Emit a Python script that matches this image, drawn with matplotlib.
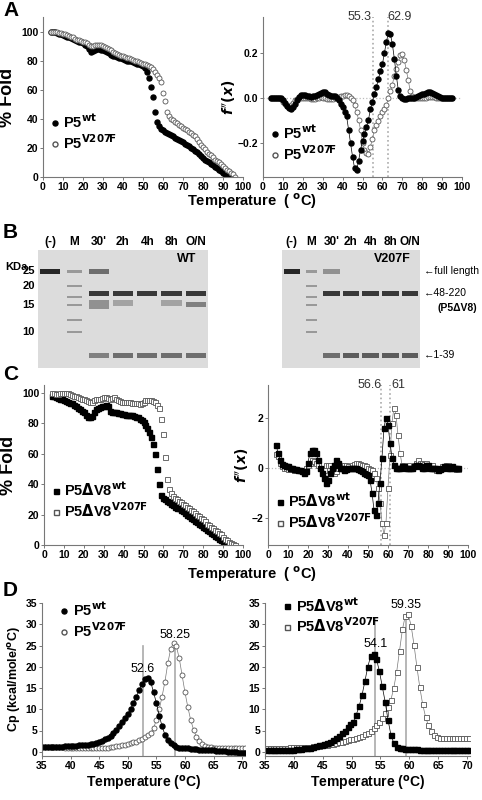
import numpy as np
import matplotlib
matplotlib.use("Agg")
import matplotlib.pyplot as plt
from matplotlib.patches import Rectangle

plt.rcParams['font.family'] = ['Liberation Sans', 'DejaVu Sans']
plt.rcParams['font.weight'] = 'bold'

# ---------------- DATA ----------------
tA_wt = list(range(4, 95))
foldA_wt = [100,100,99.5,99,98.5,98,97.5,
 97,96.5,96,95.5,95,94,93.5,93,92.5,92,
 91,90,88,86,86.5,87,88,88,87.5,87,
 86.5,86,85,84,83.5,83,82.5,82,81.5,81,
 80.5,80,80,79.5,79,78.5,78,77.5,77,76,
 75,72,68,62,55,45,38,35,33,32,
 31,30,29.5,29,28,27,26,25.5,25,24,
 23,22,21,20,19,18,17,16,14.5,13,
 12,11,10,9,8,7,6,5,4,3,
 2,1,0,-1]
tA_mut = list(range(4, 97))
foldA_mut = [100,100,99.5,99.5,99,99,98.5,
 98,97.5,97,96.5,96,95,94.5,94,93.5,93,
 92.5,92,91,90,90,90.5,91,91,90.5,90,
 89.5,89,88,87,86,85,84.5,84,83.5,83,
 82.5,82,81.5,81,80.5,80,79.5,79,78.5,78,
 77.5,77,76.5,75.5,74,72,70,68,65,58,
 52,45,42,40,39,38,37,36,35,34,
 33,32,31,30,29,28,26,24,22,20.5,
 19,17.5,16,15,13.5,12,11,10,9,7.5,
 6,5,4,3,2,0]
tA_d = list(range(4, 96))
derA_wt = [0,0,0,0,0,0,-0.01,
 -0.02,-0.035,-0.045,-0.048,-0.04,-0.025,-0.01,0.005,0.012,0.015,
 0.014,0.01,0.008,0.007,0.008,0.01,0.014,0.018,0.022,0.025,
 0.025,0.02,0.014,0.01,0.01,0.008,0.0,-0.01,-0.025,-0.04,
 -0.06,-0.08,-0.14,-0.2,-0.26,-0.31,-0.32,-0.28,-0.23,-0.19,
 -0.16,-0.13,-0.095,-0.05,-0.015,0.02,0.05,0.085,0.12,0.15,
 0.2,0.25,0.29,0.285,0.24,0.175,0.1,0.035,0.01,0.0,
 -0.005,-0.005,0,0,0,0,0.005,0.01,0.015,0.018,
 0.02,0.022,0.025,0.025,0.022,0.018,0.012,0.008,0.005,0.002,
 0,0,0,0,0]
derA_mut = [0,0,0,0,0,-0.005,-0.015,
 -0.025,-0.035,-0.04,-0.03,-0.02,-0.01,-0.005,0,0,0,
 0,0,0,-0.002,-0.003,-0.003,0,0.002,0.003,0.002,
 0,-0.002,-0.003,-0.003,-0.002,0.0,0.003,0.006,0.008,0.01,
 0.012,0.012,0.008,0,-0.01,-0.03,-0.06,-0.095,-0.14,-0.2,
 -0.23,-0.245,-0.25,-0.215,-0.18,-0.14,-0.12,-0.1,-0.08,-0.06,
 -0.05,-0.03,0.0,0.03,0.06,0.1,0.13,0.16,0.19,0.195,
 0.17,0.125,0.08,0.03,0.01,0,0,0,0,0,
 0,0.002,0.004,0.005,0.004,0.003,0.002,0.001,0,0,
 0,0,0,0,0]
peaksA = [55.3, 62.9]

tC_wt = list(range(4, 95))
foldC_wt = [98,97.5,97,96.5,96,95.5,95,94.5,94,93.5,
 93,92,91,90,89,88,87,85.5,84,84,
 84.5,87,89,90,90.5,91,91.5,92,91,88,
 87.5,87,87,86.5,86.5,86,86,85.5,85.5,85,
 85,84.5,84,84,83,82,81,79,77,74,
 71,66,60,50,40,33,31,30,29,28,
 27,26,25,24.5,24,23,22,21,20,19,
 18,17,16,15,14,13,12,11,10,9,
 8,7,6,5,4,3,2.5,2,1,0.5,0]
tC_mut = list(range(4, 97))
foldC_mut = [100,99.5,99,99,99.5,100,100,100,99.5,99,
 98.5,98,97.5,97,96.5,96,95.5,95,94.5,94,
 94,95,96,96,96,96.5,97,97,96.5,96,
 96.5,97,96,95,94.5,94,94,94,94,94,
 93.5,93.5,93,93,92.5,93,94,95,95,95,
 95,94.5,94,92,90,83,73,58,43,37,
 34,32,31,30,29,28,27,26,25,24,
 23,22,21,20,19,18,17,15.5,14,13,
 12,11,10,9,8,7,5,4,3,2,
 1.5,0.5,0]
tC_d = list(range(4, 96))
derC_wt = [0.9,0.6,0.3,0.15,0.1,0.05,0.05,0.0,0.0,-0.05,
 -0.05,-0.1,-0.1,-0.15,-0.2,-0.15,0.2,0.6,0.7,0.7,
 0.6,0.3,0.0,-0.2,-0.4,-0.6,-0.5,-0.2,0.0,0.1,
 0.3,0.2,0.0,0.0,-0.1,-0.05,0.0,0.0,0.0,0.0,
 0.0,-0.05,-0.1,-0.15,-0.2,-0.25,-0.3,-0.5,-1.0,-1.7,
 -1.9,-1.4,-0.6,0.4,1.6,2.0,1.7,1.0,0.4,0.1,
 0.0,0.0,0.0,0.05,0.05,0.0,0.0,0.0,0.0,0.05,
 0.1,0.1,0.05,0.0,0.0,0.1,0.1,0.0,0.0,0.0,
 0.0,-0.1,-0.05,0.0,0.05,0.05,0.0,0.0,0.05,0.0,0.0,0.0]
derC_mut = [0.55,0.45,0.2,0.05,0.0,0.0,-0.05,-0.05,-0.05,-0.1,
 -0.1,-0.1,-0.1,-0.15,-0.1,0.0,0.1,0.2,0.3,0.25,
 0.2,0.1,0.0,-0.05,-0.1,0.1,0.1,0.1,0.0,-0.2,
 -0.15,0.0,0.1,0.1,0.1,0.1,0.05,0.0,0.1,0.15,
 0.2,0.2,0.15,0.1,0.1,0.05,0.0,-0.05,-0.1,-0.2,
 -0.4,-0.8,-1.4,-2.2,-2.7,-2.2,-0.8,0.5,1.8,2.4,
 2.1,1.3,0.6,0.1,0.0,0.05,0.1,0.0,0.0,0.1,
 0.2,0.3,0.2,0.2,0.15,0.2,0.1,0.0,0.1,0.0,
 -0.1,0.0,0.0,0.05,0.0,0.1,0.1,0.0,0.0,0.0,-0.05,-0.05]
peaksC = [56.6, 61]

tD1 = np.arange(35, 70.6, 0.5)
cpD1_wt = [1.2,1.2,1.2,1.2,1.2,1.2,1.2,1.2,1.3,1.3,
 1.3,1.4,1.4,1.5,1.5,1.6,1.7,1.8,1.9,2.1,
 2.3,2.6,2.9,3.3,3.8,4.4,5.1,6.0,7.0,8.0,
 9.0,10.0,11.5,13.0,14.5,16.0,17.2,17.3,16.5,14.0,
 11.5,8.5,6.0,4.0,2.8,2.0,1.5,1.2,1.0,0.9,
 0.9,0.8,0.7,0.6,0.6,0.5,0.5,0.4,0.4,0.3,
 0.3,0.2,0.2,0.1,0.1,0.0,0.0,-0.1,-0.1,-0.2,
 -0.2,-0.3]
cpD1_mut = [1.2,1.2,1.2,1.2,1.1,1.1,1.1,1.1,1.0,1.0,
 1.0,1.0,1.0,0.9,0.9,0.9,0.9,0.9,0.9,0.9,
 0.9,0.9,1.0,1.0,1.1,1.2,1.3,1.4,1.5,1.7,
 1.9,2.0,2.2,2.4,2.7,3.0,3.4,3.9,4.5,5.5,
 7.5,10.0,13.0,16.5,20.8,24.2,25.6,24.8,22.0,18.0,
 14.0,10.5,7.5,5.2,3.5,2.5,1.8,1.4,1.2,1.1,
 1.0,1.0,0.9,0.9,0.9,0.9,0.8,0.8,0.8,0.8,
 0.8,0.8]
tmD1 = [52.6, 58.25]

tD2 = np.arange(35.3, 70.4, 0.5)
cpD2_wt = [0.3,0.3,0.3,0.3,0.3,0.4,0.4,0.4,0.5,0.5,
 0.6,0.6,0.7,0.8,0.9,1.0,1.1,1.3,1.5,1.7,
 1.9,2.1,2.4,2.8,3.2,3.7,4.3,5.0,5.8,6.5,
 7.0,8.7,10.7,13.3,16.6,20.0,22.5,23.0,21.8,19.0,
 15.4,11.8,7.5,4.0,2.0,1.2,0.9,0.8,0.7,0.7,
 0.6,0.6,0.6,0.5,0.5,0.5,0.5,0.5,0.5,0.4,
 0.4,0.4,0.4,0.4,0.4,0.3,0.3,0.3,0.3,0.3,
 0.3]
cpD2_mut = [1.0,1.0,1.0,1.0,1.0,1.0,1.0,1.0,1.1,1.1,
 1.1,1.1,1.1,1.2,1.2,1.2,1.3,1.3,1.4,1.5,
 1.6,1.7,1.8,1.9,2.0,2.2,2.4,2.6,2.8,3.0,
 3.0,3.2,3.5,3.8,4.1,4.5,5.0,5.5,6.2,7.0,
 8.0,9.2,10.5,12.2,15.0,18.8,23.8,28.8,32.0,32.3,
 29.7,25.2,20.0,15.2,11.2,8.2,6.2,4.8,4.0,3.5,
 3.2,3.2,3.2,3.2,3.2,3.2,3.2,3.2,3.2,3.2,
 3.2]
tmD2 = [54.1, 59.35]

# gel: lanes and band sizes (kDa), intensities
lanes = ["(-)", "M", "30'", "2h", "4h", "8h", "O/N"]
marker_kda = [25, 20, 15, 10]
bands_wt = {"(-)": [(25, 1.0)], "30'": [(25, 0.6), (18, 0.9), (15.5, 0.4), (14.8, 0.4), (7, 0.5)],
            "2h": [(18, 0.9), (15.5, 0.3), (7, 0.6)], "4h": [(18, 0.9), (7, 0.6)],
            "8h": [(18, 0.9), (15.5, 0.3), (7, 0.6)], "O/N": [(18, 0.9), (15.2, 0.5), (7, 0.6)]}
bands_mut = {"(-)": [(25, 1.0)], "30'": [(25, 0.4), (18, 0.9), (7, 0.6)],
             "2h": [(18, 0.9), (7, 0.7)], "4h": [(18, 0.9), (7, 0.7)],
             "8h": [(18, 0.9), (7, 0.7)], "O/N": [(18, 0.9), (7, 0.7)]}

# ---------------- FIGURE ----------------
fig = plt.figure(figsize=(4.82, 8.0), dpi=100)
W, H = 482, 800

def ax_px(x0, x1, y0, y1):
    return fig.add_axes([x0 / W, 1 - y1 / H, (x1 - x0) / W, (y1 - y0) / H])

def style(ax, xlim=(0, 100), xt=range(0, 101, 10)):
    for s in ['top', 'right']:
        ax.spines[s].set_visible(False)
    for s in ['left', 'bottom']:
        ax.spines[s].set_color('#777777')
        ax.spines[s].set_linewidth(0.8)
    ax.set_xlim(*xlim)
    ax.set_xticks(list(xt))
    ax.tick_params(labelsize=7.5, length=2.5, width=0.7, color='#777777', pad=1)
    for lb in ax.get_xticklabels() + ax.get_yticklabels():
        lb.set_fontweight('bold')

ms = 3.6
def filled(ax, x, y, m='o', line=False):
    ax.plot(x, y, m, ms=ms, color='black', mec='black', ls='-' if line else 'none', lw=0.5)
def hollow(ax, x, y, m='o', line=False):
    ax.plot(x, y, m, ms=ms, mfc='white', mec='#555555', mew=0.6, color='#777777',
            ls='-' if line else 'none', lw=0.5)

def legend(ax, labels, m, loc, fs=10.5):
    h1 = ax.plot([], [], m, ms=ms, color='black', ls='none')[0]
    h2 = ax.plot([], [], m, ms=ms, mfc='white', mec='#555555', ls='none')[0]
    ax.legend([h1, h2], labels, loc=loc, frameon=False, handletextpad=0.2,
              borderaxespad=0.2, labelspacing=0.15, handlelength=0.8, prop={'weight': 'bold', 'size': fs})

# A left
a1 = ax_px(43, 243, 17, 177)
filled(a1, tA_wt, foldA_wt); hollow(a1, tA_mut, foldA_mut)
style(a1); a1.set_ylim(0, 110); a1.set_yticks(range(0, 101, 20))
a1.set_ylabel('% Fold', fontsize=13, fontweight='bold')
a1.yaxis.set_label_coords(-0.135, 0.5)
legend(a1, [r'P5$^{\mathbf{wt}}$', r'P5$^{\mathbf{V207F}}$'], 'o', (0.0, 0.12))
# A right
a2 = ax_px(263, 462, 17, 177)
a2.axhline(0, color='#bbbbbb', ls=':', lw=0.9)
for p in peaksA:
    a2.axvline(p, color='#aaaaaa', ls=':', lw=1.2)
a2.text(peaksA[0] - 1, 0.335, str(peaksA[0]), ha='right', va='bottom', fontsize=9, fontweight='normal', color='#333333')
a2.text(peaksA[1] - 0.5, 0.335, str(peaksA[1]), ha='left', va='bottom', fontsize=9, fontweight='normal', color='#333333')
hollow(a2, tA_d, derA_mut, line=True); filled(a2, tA_d, derA_wt, line=True)
style(a2); a2.set_ylim(-0.35, 0.36); a2.set_yticks([-0.2, 0.0, 0.2])
a2.set_ylabel(r"$f''(x)$", fontsize=10, fontweight='normal', labelpad=0)
legend(a2, [r'P5$^{\mathbf{wt}}$', r'P5$^{\mathbf{V207F}}$'], 'o', (0.0, 0.05))
fig.text(252 / W, 1 - 201 / H, 'Temperature  ( $^{\\mathbf{o}}$C)', ha='center', va='center', fontsize=10.5, fontweight='bold')

# B gel
def gel(x0, x1, bands, title):
    g = ax_px(x0, x1, 250, 368)
    g.set_xlim(-0.5, len(lanes) - 0.5); g.set_ylim(0, 1)
    g.set_facecolor('#dcdcdc')
    g.set_xticks([]); g.set_yticks([])
    for s in g.spines.values():
        s.set_visible(False)
    def ypos(k):
        return 0.02 + 0.9 * (np.log(k) - np.log(6)) / (np.log(30) - np.log(6))
    for i, ln in enumerate(lanes):
        if ln == "M":
            for k in marker_kda + [17, 12]:
                g.add_patch(Rectangle((i - 0.3, ypos(k) - 0.01), 0.6, 0.02, color='#999999', lw=0))
        for k, inten in bands.get(ln, []):
            c = str(0.85 - 0.7 * inten)
            g.add_patch(Rectangle((i - 0.42, ypos(k) - 0.022), 0.84, 0.044, color=c, lw=0))
        fig.text((x0 + (x1 - x0) * (i + 0.5) / len(lanes)) / W, 1 - 242 / H, ln,
                 ha='center', va='center', fontsize=8.5, fontweight='bold')
    g.text(0.93, 0.9, title, transform=g.transAxes, ha='right', fontsize=9, fontweight='bold')
    return g, ypos
g1, ypos = gel(38, 208, bands_wt, 'WT')
g2, _ = gel(282, 420, bands_mut, 'V207F')
fig.text(5 / W, 1 - 267 / H, 'KDa', fontsize=8, fontweight='bold', va='center')
for k in marker_kda:
    fig.text(35 / W, 1 - (368 - 118 * ypos(k)) / H, str(k), fontsize=8, fontweight='bold', ha='right', va='center')
for txt, k in [('full length', 25), ('48-220', 18), ('1-39', 7)]:
    yy = 1 - (368 - 118 * ypos(k)) / H
    fig.text(424 / W, yy, '\u2190' + txt, fontsize=7.5, fontweight='normal', va='center')
fig.text(437 / W, 1 - (368 - 118 * ypos(18)) / H - 0.018, '(P5\u0394V8)', fontsize=7.5, va='center')

# C left
c1 = ax_px(44, 243, 385, 545)
filled(c1, tC_wt, foldC_wt, 's'); hollow(c1, tC_mut, foldC_mut, 's')
style(c1); c1.set_ylim(0, 105); c1.set_yticks(range(0, 101, 20))
c1.set_ylabel('% Fold', fontsize=13, fontweight='bold')
c1.yaxis.set_label_coords(-0.135, 0.5)
legend(c1, [r'P5$\Delta$V8$^{\mathbf{wt}}$', r'P5$\Delta$V8$^{\mathbf{V207F}}$'], 's', (0.0, 0.12))
# C right
c2 = ax_px(268, 468, 385, 545)
c2.axhline(0, color='#bbbbbb', ls=':', lw=0.9)
for p in peaksC:
    c2.axvline(p, color='#aaaaaa', ls=':', lw=1.2)
c2.text(peaksC[0] + 0.5, 3.05, str(peaksC[0]), ha='right', va='bottom', fontsize=9, fontweight='normal', color='#333333')
c2.text(peaksC[1] + 0.5, 3.05, str(peaksC[1]), ha='left', va='bottom', fontsize=9, fontweight='normal', color='#333333')
hollow(c2, tC_d, derC_mut, 's', line=True); filled(c2, tC_d, derC_wt, 's', line=True)
style(c2); c2.set_ylim(-3.1, 3.3); c2.set_yticks([-2, 0, 2])
c2.set_ylabel(r"$f''(x)$", fontsize=10, fontweight='normal', labelpad=0)
legend(c2, [r'P5$\Delta$V8$^{\mathbf{wt}}$', r'P5$\Delta$V8$^{\mathbf{V207F}}$'], 's', (0.0, 0.05))
fig.text(252 / W, 1 - 574 / H, 'Temperature  ( $^{\\mathbf{o}}$C)', ha='center', va='center', fontsize=10.5, fontweight='bold')

# D
d1 = ax_px(42, 245, 603, 756)
for t in tmD1:
    d1.axvline(t, color='#aaaaaa', lw=1.2, ymax=0.72)
hollow(d1, tD1, cpD1_mut, line=True); filled(d1, tD1, cpD1_wt, line=True)
d1.text(tmD1[0], 18, str(tmD1[0]), ha='center', va='bottom', fontsize=9, fontweight='normal')
d1.text(tmD1[1], 26, str(tmD1[1]), ha='center', va='bottom', fontsize=9, fontweight='normal')
style(d1, (35, 70.5), range(35, 71, 5)); d1.set_ylim(-1, 35); d1.set_yticks(range(0, 36, 5))
d1.set_ylabel('Cp (kcal/mole/$^{\\mathbf{o}}$C)', fontsize=9, fontweight='bold', labelpad=2)
d1.set_xlabel('Temperature ($^{\\mathbf{o}}$C)', fontsize=10, fontweight='bold', labelpad=2)
legend(d1, [r'P5$^{\mathbf{wt}}$', r'P5$^{\mathbf{V207F}}$'], 'o', (0.05, 0.72))
d2 = ax_px(265, 470, 603, 756)
for t in tmD2:
    d2.axvline(t, color='#aaaaaa', lw=1.2, ymax=0.9)
hollow(d2, tD2, cpD2_mut, 's', line=True); filled(d2, tD2, cpD2_wt, 's', line=True)
d2.text(tmD2[0], 24, str(tmD2[0]), ha='center', va='bottom', fontsize=9, fontweight='normal')
d2.text(tmD2[1], 33, str(tmD2[1]), ha='center', va='bottom', fontsize=9, fontweight='normal')
style(d2, (35, 70.5), range(35, 71, 5)); d2.set_ylim(-1, 35); d2.set_yticks(range(0, 36, 5))
d2.set_xlabel('Temperature ($^{\\mathbf{o}}$C)', fontsize=10, fontweight='bold', labelpad=2)
legend(d2, [r'P5$\Delta$V8$^{\mathbf{wt}}$', r'P5$\Delta$V8$^{\mathbf{V207F}}$'], 's', (0.05, 0.75))

for lab, y in [('A', 10), ('B', 232), ('C', 375), ('D', 590)]:
    fig.text(3 / W, 1 - y / H, lab, fontsize=15, fontweight='bold', va='center')

fig.savefig('out.png', dpi=100)
